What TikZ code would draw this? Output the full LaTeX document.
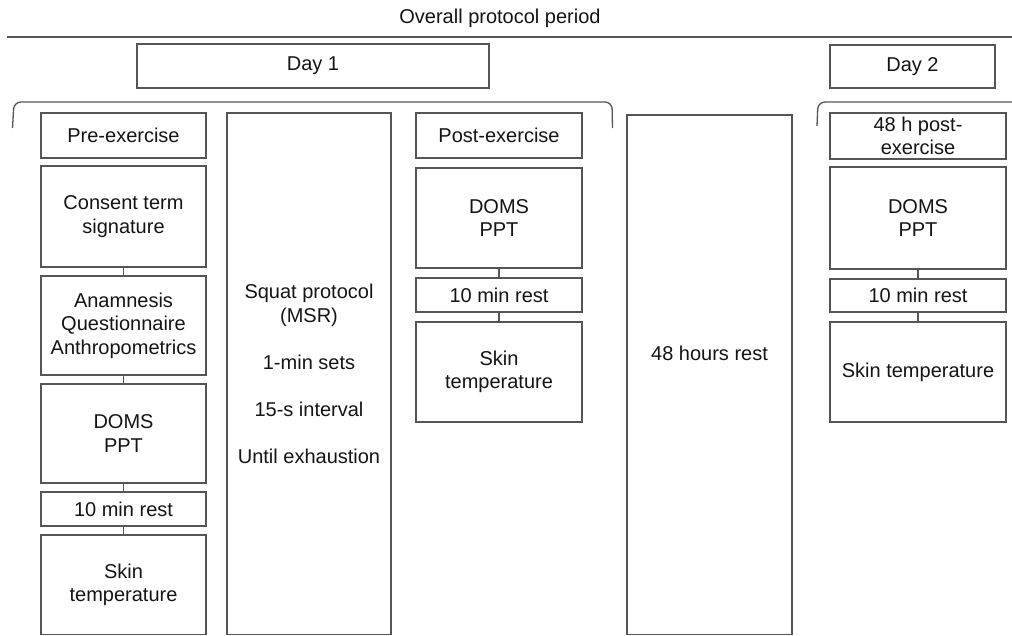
\documentclass[tikz,border=0pt]{standalone}
\usepackage{fontspec}
\setmainfont{Liberation Sans}
\definecolor{linegray}{HTML}{555555}
\definecolor{textgray}{HTML}{141414}
\newcommand\boxfont{\fontsize{20}{23.5}\selectfont}
% \bx{name}{x1}{y1}{x2}{y2}{text}: a box given by its corners, in pixels
\newcommand\bx[6]{\node[box, minimum width={#4-#2}, minimum height={#5-#3}] (#1) at ({(#2+#4)/2},{(#3+#5)/2}) {#6};}
\tikzset{
  box/.style={draw=linegray, line width=1.3pt, align=center, inner sep=0pt, font=\boxfont, text=textgray},
  lbl/.style={font=\boxfont, text=textgray, align=center, inner sep=0pt},
  conn/.style={draw=linegray, line width=1.3pt},
  brace/.style={draw=linegray, line width=1.3pt, rounded corners=7pt},
  rule/.style={draw=linegray, line width=1.3pt}
}
\begin{document}
\begin{tikzpicture}[x=1pt, y=-1pt]
  \useasboundingbox (0,0) rectangle (1012,635);

  % overall period
  \node[lbl] (title) at (500,18) {Overall protocol period};
  \coordinate (ruleL) at (7,37);
  \coordinate (ruleR) at (1012,37);
  \draw[rule] (ruleL) -- (ruleR);

  % days
  \bx{day1}{137}{44}{489}{88}{Day 1}
  \bx{day2}{830}{45}{995}{88}{Day 2}

  % braces under the day headers
  \draw[brace] (12.5,128) -- (14,102) -- (612,102) -- (612.5,128);
  \draw[brace] (817,126) -- (818,102) -- (1013,102);

  % pre-exercise column
  \bx{pre}{41}{113}{206}{158}{Pre-exercise}
  \bx{consent}{41}{166}{206}{267}{Consent term\\signature}
  \bx{anam}{41}{276}{206}{375}{Anamnesis\\Questionnaire\\Anthropometrics}
  \bx{domsA}{41}{384}{206}{483}{DOMS\\PPT}
  \bx{restA}{41}{492}{206}{526}{10 min rest}
  \bx{skinA}{41}{535}{206}{634.5}{Skin\\temperature}

  % exercise
  \bx{squat}{227}{113}{391}{634.5}{Squat protocol\\(MSR)\\[23.5pt]1-min sets\\[23.5pt]15-s interval\\[23.5pt]Until exhaustion}

  % post-exercise column
  \bx{post}{416}{113}{582}{158}{Post-exercise}
  \bx{domsB}{416}{168}{582}{268}{DOMS\\PPT}
  \bx{restB}{416}{278}{582}{312}{10 min rest}
  \bx{skinB}{416}{322}{582}{422}{Skin\\temperature}

  % rest between days
  \bx{hrest}{627}{115}{792}{634.5}{}
  \node[lbl] (hresttext) at (709.5,353) {48 hours rest};

  % day 2 column
  \bx{postC}{830}{113}{1006}{159}{48 h post-\\exercise}
  \bx{domsC}{830}{167}{1006}{269}{DOMS\\PPT}
  \bx{restC}{830}{279}{1006}{312}{10 min rest}
  \bx{skinC}{830}{322}{1006}{422}{Skin temperature}

  % connectors
  \draw[conn] (consent) -- (anam);
  \draw[conn] (anam) -- (domsA);
  \draw[conn] (domsA) -- (restA);
  \draw[conn] (restA) -- (skinA);
  \draw[conn] (domsB) -- (restB);
  \draw[conn] (restB) -- (skinB);
  \draw[conn] (domsC) -- (restC);
  \draw[conn] (restC) -- (skinC);
\end{tikzpicture}
\end{document}
